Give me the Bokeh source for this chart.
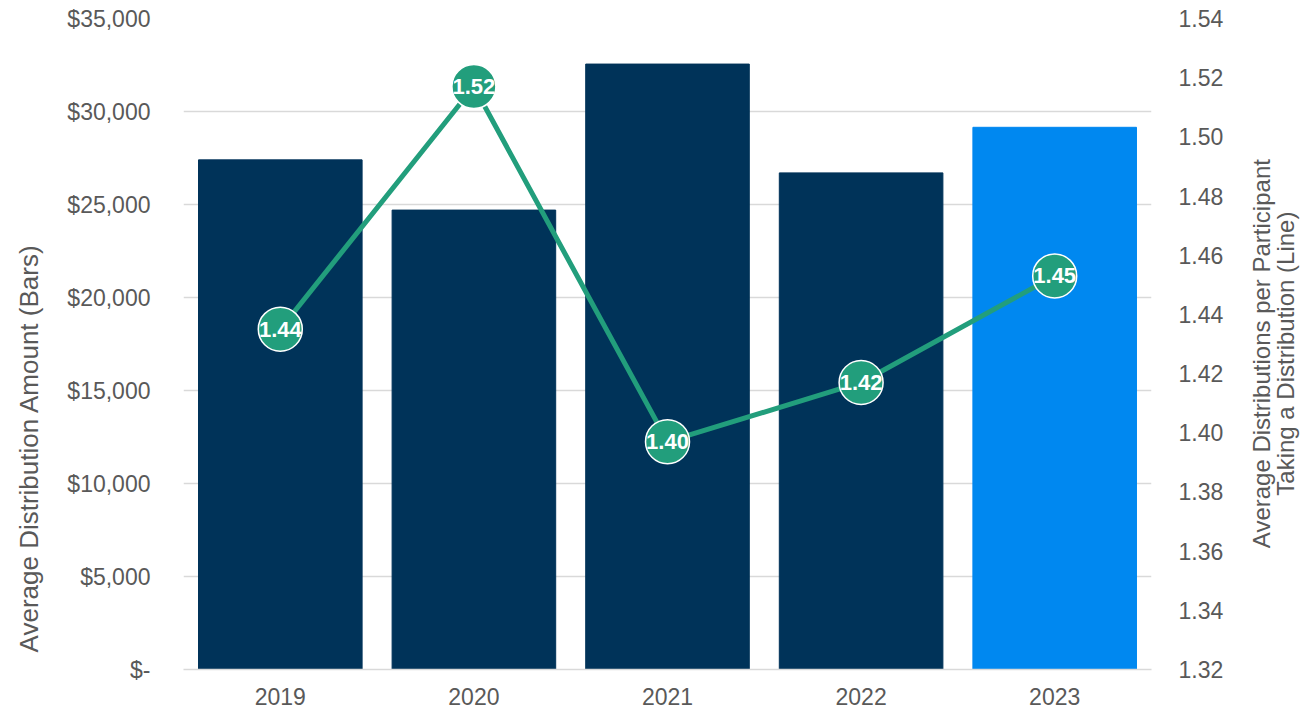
import math
from bokeh.plotting import figure
from bokeh.layouts import row
from bokeh.models import Range1d, LinearAxis, FixedTicker, NumeralTickFormatter, ColumnDataSource, FactorRange
from bokeh.core.properties import value
from bokeh.embed import file_html
from bokeh.resources import INLINE

# ---- data ----
years = ["2019", "2020", "2021", "2022", "2023"]
avg_amount = [27400, 24700, 32550, 26700, 29150]
avg_dists = [1.435, 1.517, 1.397, 1.417, 1.453]
left_ticks = [0, 5000, 10000, 15000, 20000, 25000, 30000, 35000]
left_tick_labels = ["$-", "$5,000", "$10,000", "$15,000", "$20,000", "$25,000", "$30,000", "$35,000"]
right_ticks = [1.32, 1.34, 1.36, 1.38, 1.40, 1.42, 1.44, 1.46, 1.48, 1.50, 1.52, 1.54]
highlight_year = "2023"
left_title = "Average Distribution Amount (Bars)"
right_title_lines = ["Average Distributions per Participant", "Taking a Distribution (Line)"]

NAVY = "#003359"
BLUE = "#0088F0"
TEAL = "#229E7C"
GRID = "#D9D9D9"
TXT = "#595959"
FONT = "Liberation Sans"

H = 709
LW, MW, RW = 50, 1196, 58   # left title strip, main chart, right title strip

bar_colors = [BLUE if y == highlight_year else NAVY for y in years]
src = ColumnDataSource(dict(
    year=years, amount=avg_amount, dists=avg_dists, color=bar_colors,
    label=[f"{v:.2f}" for v in avg_dists],
))

# ---------- main chart ----------
p = figure(width=MW, height=H, x_range=FactorRange(*years),
           y_range=Range1d(0, 35000), output_backend="svg",
           toolbar_location=None, min_border_left=133, min_border_right=95,
           min_border_top=18, min_border_bottom=40)
p.outline_line_color = None
p.background_fill_color = "white"
p.border_fill_color = "white"

p.extra_y_ranges = {"right": Range1d(1.32, 1.54)}

p.vbar(x="year", top="amount", width=0.845, color="color", source=src)
p.line(x="year", y="dists", y_range_name="right", line_color=TEAL, line_width=5, source=src)
p.scatter(x="year", y="dists", y_range_name="right", size=44, fill_color=TEAL,
          line_color="white", line_width=1.5, source=src)
p.text(x="year", y="dists", text="label", y_range_name="right", text_align="center",
       text_baseline="middle", text_color="white", text_font=value(FONT),
       text_font_style="bold", text_font_size="22px", source=src)

p.xgrid.grid_line_color = None
p.ygrid.grid_line_color = GRID
p.ygrid.grid_line_width = 1.5
p.ygrid.ticker = FixedTicker(ticks=left_ticks)

la = p.yaxis[0]
la.ticker = FixedTicker(ticks=left_ticks)
la.major_label_overrides = {t: l for t, l in zip(left_ticks, left_tick_labels)}
la.axis_line_color = None
la.major_tick_line_color = None
la.minor_tick_line_color = None
la.major_label_standoff = 27
la.major_label_text_font = FONT
la.major_label_text_font_size = "23px"
la.major_label_text_color = TXT

ra = LinearAxis(y_range_name="right")
ra.ticker = FixedTicker(ticks=right_ticks)
ra.formatter = NumeralTickFormatter(format="0.00")
ra.axis_line_color = None
ra.major_tick_line_color = None
ra.minor_tick_line_color = None
ra.major_label_standoff = 21
ra.major_label_text_font = FONT
ra.major_label_text_font_size = "23px"
ra.major_label_text_color = TXT
p.add_layout(ra, "right")

xa = p.xaxis[0]
xa.axis_line_color = GRID
xa.axis_line_width = 1.5
xa.major_tick_line_color = None
xa.minor_tick_line_color = None
xa.major_label_standoff = 12
xa.major_label_text_font = FONT
xa.major_label_text_font_size = "23px"
xa.major_label_text_color = TXT


def title_strip(width):
    f = figure(width=width, height=H, x_range=Range1d(0, width), y_range=Range1d(0, H),
               output_backend="svg", toolbar_location=None, min_border=0,
               x_axis_location=None, y_axis_location=None)
    f.outline_line_color = None
    f.xgrid.visible = False
    f.ygrid.visible = False
    return f


# ---------- left title (reads bottom to top) ----------
pl = title_strip(LW)
pl.text(x=[28], y=[H - 468], text=[left_title], angle=math.pi / 2,
        text_align="center", text_baseline="middle", text_color=TXT,
        text_font=value(FONT), text_font_size="26px")

# ---------- right title (two centred lines, bottom to top) ----------
pr = title_strip(RW)
pr.text(x=[15, 39], y=[H - 365, H - 365], text=right_title_lines, angle=math.pi / 2,
        text_align="center", text_baseline="middle", text_color=TXT,
        text_font=value(FONT), text_font_size="24px")

layout = row(pl, p, pr)
open("out.html", "w").write(file_html(layout, INLINE))
